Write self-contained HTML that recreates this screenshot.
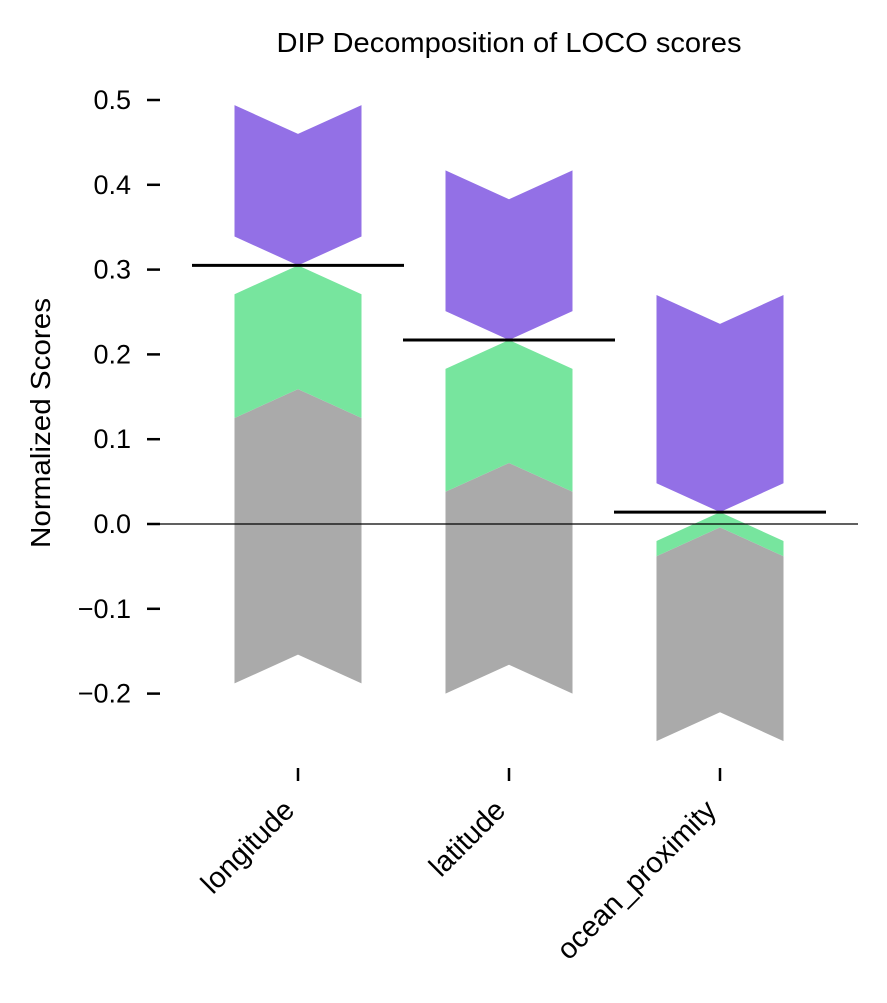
<!DOCTYPE html>
<html><head><meta charset="utf-8"><style>
body{margin:0;background:#fff}
svg text{font-family:"Liberation Sans",Arial,sans-serif;fill:#000}
</style></head><body>
<svg id="chart" width="887" height="998" xmlns="http://www.w3.org/2000/svg">
<text x="509" y="52" font-size="28" text-anchor="middle" textLength="465" lengthAdjust="spacingAndGlyphs">DIP Decomposition of LOCO scores</text>
<text transform="translate(50,423) rotate(-90)" font-size="28" text-anchor="middle" textLength="250" lengthAdjust="spacingAndGlyphs">Normalized Scores</text>
<g id="marks"></g>
<g id="axes"></g>
</svg>
<script>
const categories = ["longitude","latitude","ocean_proximity"];
const grayLow = [-0.154,-0.166,-0.222];
const grayHigh = [0.159,0.072,-0.004];
const greenHigh = [0.305,0.217,0.014];
const purpleLow = [0.305,0.217,0.014];
const purpleHigh = [0.460,0.383,0.236];
const totals = [0.305,0.217,0.014];
const yTicks = [-0.2,-0.1,0.0,0.1,0.2,0.3,0.4,0.5];
const yTickLabels = ["\u22120.2","\u22120.1","0.0","0.1","0.2","0.3","0.4","0.5"];

const NS="http://www.w3.org/2000/svg";
const y = v => 524 - v*848;
const x = i => 298 + i*211;
const barHalf = 63.5, notch = 0.034, lineHalf = 106;
const marks=document.getElementById('marks'), axes=document.getElementById('axes');
function mk(tag,attrs,parent){const e=document.createElementNS(NS,tag);for(const k in attrs)e.setAttribute(k,attrs[k]);parent.appendChild(e);return e;}
function arrow(i,lo,hi,dir,color,name){
  const c=x(i), l=c-barHalf, r=c+barHalf;
  const d = dir>0 ? -notch : notch;
  const pts=[[l,y(lo+d)],[c,y(lo)],[r,y(lo+d)],[r,y(hi+d)],[c,y(hi)],[l,y(hi+d)]];
  const p=mk('polygon',{points:pts.map(q=>q.join(',')).join(' '),fill:color},marks);
  
  
}
categories.forEach((cat,i)=>{
  arrow(i,grayLow[i],grayHigh[i],1,'#aaaaaa','gray-segment-'+cat);
  arrow(i,grayHigh[i],greenHigh[i],1,'#77e59e','green-segment-'+cat);
  arrow(i,purpleLow[i],purpleHigh[i],-1,'#9370e6','purple-segment-'+cat);
});
const z=mk('line',{x1:160,x2:858,y1:y(0),y2:y(0),stroke:'#000','stroke-width':1.2},marks);


categories.forEach((cat,i)=>{
  const t=mk('line',{x1:x(i)-lineHalf,x2:x(i)+lineHalf,y1:y(totals[i]),y2:y(totals[i]),stroke:'#000','stroke-width':3},marks);
  
  
  const tk=mk('line',{x1:x(i),x2:x(i),y1:768,y2:781,stroke:'#000','stroke-width':2.5},axes);
  
  
  const lb=mk('text',{transform:`translate(${x(i)-2},${812}) rotate(-45)`,'font-size':29,'text-anchor':'end'},axes);
  lb.textContent=cat;
  
  
});
yTicks.forEach((v,i)=>{
  const tk=mk('line',{x1:147,x2:160,y1:y(v),y2:y(v),stroke:'#000','stroke-width':2.5},axes);
  
  
  const lb=mk('text',{x:131,y:y(v)+9,'font-size':27,'text-anchor':'end'},axes);
  lb.textContent=yTickLabels[i];
  
  
});
</script>
</body></html>
